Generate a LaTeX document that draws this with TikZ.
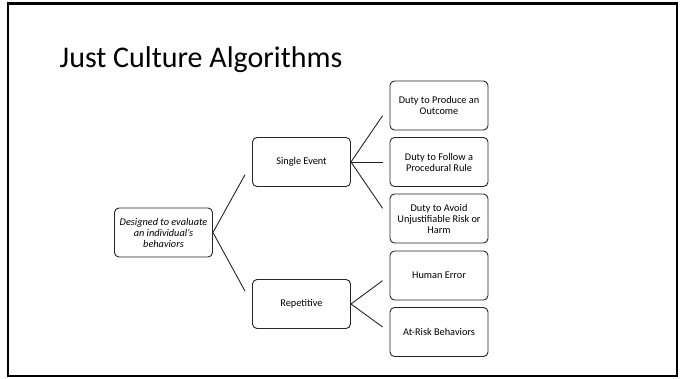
\documentclass[tikz,border=0pt]{standalone}
\usepackage{fontspec}
\setmainfont{Carlito}
\usetikzlibrary{calc}
\tikzset{
  box/.style={draw=black!85, line width=0.9pt, rounded corners=4.5pt,
    minimum width=98pt, minimum height=49pt, inner sep=2pt,
    align=center,
    font=\fontsize{10.3pt}{11pt}\selectfont},
  link/.style={draw=black!85, line width=0.9pt}
}
\begin{document}
\begin{tikzpicture}[x=1pt,y=-1pt]
  \useasboundingbox (0,0) rectangle (683,378);
  % slide frame
  \draw[line width=2.2pt] (8,3.5) rectangle (677,376);
  % title
  \node[anchor=base west, inner sep=0pt, font=\fontsize{30pt}{36pt}\selectfont]
    (title) at (59.5,67) {Just Culture Algorithms};

  % tree
  \node[box, font=\fontsize{10.3pt}{11pt}\selectfont\itshape] (root) at (163.5,232.5)
    {Designed to evaluate\\an individual's\\behaviors};
  \node[box] (single) at (301.5,162) {Single Event};
  \node[box] (rep) at (301.5,304) {Repetitive};
  \node[box] (b1) at (439,105.5) {Duty to Produce an\\Outcome};
  \node[box] (b2) at (439,162) {Duty to Follow a\\Procedural Rule};
  \node[box] (b3) at (439,218.5) {Duty to Avoid\\Unjustifiable Risk or\\Harm};
  \node[box] (b4) at (439,275.5) {Human Error};
  \node[box] (b5) at (439,332) {At-Risk Behaviors};

  % connectors, stopping short of the child boxes
  \foreach \p/\c in {root/single, root/rep, single/b1, single/b2, single/b3, rep/b4, rep/b5}
    \draw[link] (\p.east) -- ($(\p.east)!0.82!(\c.west)$);
\end{tikzpicture}
\end{document}
